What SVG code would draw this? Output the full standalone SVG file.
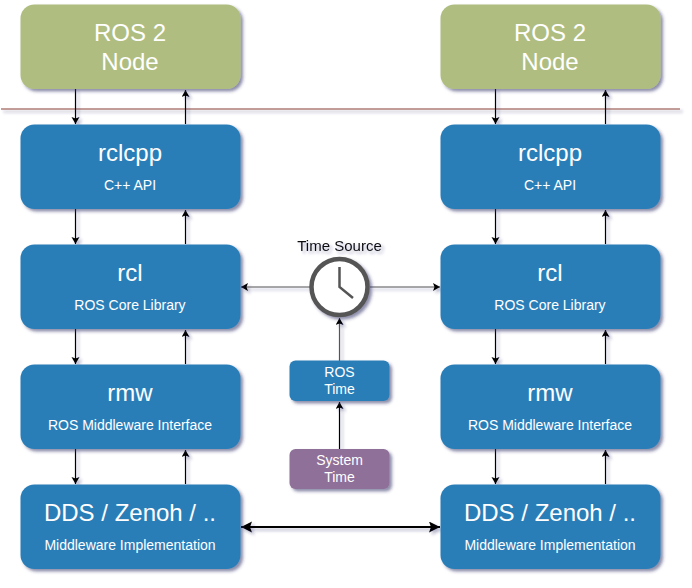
<svg xmlns="http://www.w3.org/2000/svg" width="692" height="588" viewBox="0 0 692 588">
<defs>
<filter id="sh" x="-15%" y="-15%" width="130%" height="140%"><feDropShadow dx="2.500" dy="2.500" stdDeviation="1.800" flood-color="#2e2e66" flood-opacity="0.55"/></filter>
<filter id="ls" filterUnits="userSpaceOnUse" x="0" y="0" width="692" height="588"><feDropShadow dx="2.500" dy="2.500" stdDeviation="1.800" flood-color="#2e2e66" flood-opacity="0.35"/></filter>
<marker id="a" markerWidth="8" markerHeight="10" refX="7" refY="4" orient="auto-start-reverse" markerUnits="userSpaceOnUse"><path d="M0 0L7 4L0 8L1.500 4Z" fill="#000"/></marker>
<marker id="b" markerWidth="12" markerHeight="12" refX="11" refY="5.500" orient="auto-start-reverse" markerUnits="userSpaceOnUse"><path d="M0 0L11 5.500L0 11L2 5.500Z" fill="#000"/></marker>
</defs>
<style>
text{font-family:"Liberation Sans",Arial,sans-serif;fill:#fff;text-anchor:middle}
.g{fill:#afbe80;filter:url(#sh)}
.bl{fill:#2a7eb8;filter:url(#sh)}
.pu{fill:#8f7099;filter:url(#sh)}
.t{font-size:24px}
.s{font-size:14px}
.m{font-size:14px}
.c{stroke:#000;stroke-width:1.200;fill:none}
</style>
<rect width="692" height="588" fill="#fff"/>
<path id="divider" d="M1 109H680" stroke="#b07f78" stroke-width="1.600" fill="none" filter="url(#ls)"/>
<g id="connectors" filter="url(#ls)">
<path class="c" d="M75.500 89V124" marker-end="url(#a)"/><path class="c" d="M185.500 124V90" marker-end="url(#a)"/>
<path class="c" d="M75.500 209V244" marker-end="url(#a)"/><path class="c" d="M185.500 244V210" marker-end="url(#a)"/>
<path class="c" d="M75.500 329V364" marker-end="url(#a)"/><path class="c" d="M185.500 364V330" marker-end="url(#a)"/>
<path class="c" d="M75.500 449V484" marker-end="url(#a)"/><path class="c" d="M185.500 484V450" marker-end="url(#a)"/>
<path class="c" d="M495.500 89V124" marker-end="url(#a)"/><path class="c" d="M605.500 124V90" marker-end="url(#a)"/>
<path class="c" d="M495.500 209V244" marker-end="url(#a)"/><path class="c" d="M605.500 244V210" marker-end="url(#a)"/>
<path class="c" d="M495.500 329V364" marker-end="url(#a)"/><path class="c" d="M605.500 364V330" marker-end="url(#a)"/>
<path class="c" d="M495.500 449V484" marker-end="url(#a)"/><path class="c" d="M605.500 484V450" marker-end="url(#a)"/>
<path d="M310 287H241" marker-end="url(#a)" stroke="#555" stroke-width="1.200" fill="none"/><path d="M370 287H440" marker-end="url(#a)" stroke="#555" stroke-width="1.200" fill="none"/>
<path d="M339.500 361V318" marker-end="url(#a)" stroke="#555" stroke-width="1.200" fill="none"/><path class="c" d="M339.500 449V402" marker-end="url(#a)"/>
<path d="M241 527H440" stroke="#000" stroke-width="2.200" fill="none" marker-start="url(#b)" marker-end="url(#b)"/>
</g>
<g id="node-ros-left"><rect class="g" x="20.500" y="4.500" width="220" height="84.500" rx="14"/><text class="t" x="130" y="41">ROS 2</text><text class="t" x="130" y="70">Node</text></g>
<g id="node-rclcpp-left"><rect class="bl" x="20.500" y="124.500" width="220" height="84.500" rx="14"/><text class="t" x="130" y="161">rclcpp</text><text class="s" x="130" y="190">C++ API</text></g>
<g id="node-rcl-left"><rect class="bl" x="20.500" y="244.500" width="220" height="84.500" rx="14"/><text class="t" x="130" y="281">rcl</text><text class="s" x="130" y="310">ROS Core Library</text></g>
<g id="node-rmw-left"><rect class="bl" x="20.500" y="364.500" width="220" height="84.500" rx="14"/><text class="t" x="130" y="401">rmw</text><text class="s" x="130" y="430">ROS Middleware Interface</text></g>
<g id="node-dds-left"><rect class="bl" x="20.500" y="484.500" width="220" height="84.500" rx="14"/><text class="t" x="130" y="521">DDS / Zenoh / ..</text><text class="s" x="130" y="550">Middleware Implementation</text></g>
<g id="node-ros-right"><rect class="g" x="440.500" y="4.500" width="220" height="84.500" rx="14"/><text class="t" x="550" y="41">ROS 2</text><text class="t" x="550" y="70">Node</text></g>
<g id="node-rclcpp-right"><rect class="bl" x="440.500" y="124.500" width="220" height="84.500" rx="14"/><text class="t" x="550" y="161">rclcpp</text><text class="s" x="550" y="190">C++ API</text></g>
<g id="node-rcl-right"><rect class="bl" x="440.500" y="244.500" width="220" height="84.500" rx="14"/><text class="t" x="550" y="281">rcl</text><text class="s" x="550" y="310">ROS Core Library</text></g>
<g id="node-rmw-right"><rect class="bl" x="440.500" y="364.500" width="220" height="84.500" rx="14"/><text class="t" x="550" y="401">rmw</text><text class="s" x="550" y="430">ROS Middleware Interface</text></g>
<g id="node-dds-right"><rect class="bl" x="440.500" y="484.500" width="220" height="84.500" rx="14"/><text class="t" x="550" y="521">DDS / Zenoh / ..</text><text class="s" x="550" y="550">Middleware Implementation</text></g>
<g id="node-clock"><text x="339.500" y="251" font-size="15" style="fill:#111;filter:url(#ls)">Time Source</text>
<circle cx="339.500" cy="287" r="28" fill="#fff" stroke="#555" stroke-width="4.500" filter="url(#sh)"/><path d="M339.500 267V287L353 298" fill="none" stroke="#555" stroke-width="2.500"/></g>
<g id="node-ros-time"><rect class="bl" x="289.500" y="360.500" width="100" height="40.500" rx="6"/><text class="m" x="339.500" y="377">ROS</text><text class="m" x="339.500" y="394">Time</text></g>
<g id="node-system-time"><rect class="pu" x="289.500" y="449" width="100" height="40" rx="6"/><text class="m" x="339.500" y="465">System</text><text class="m" x="339.500" y="482">Time</text></g>
</svg>
